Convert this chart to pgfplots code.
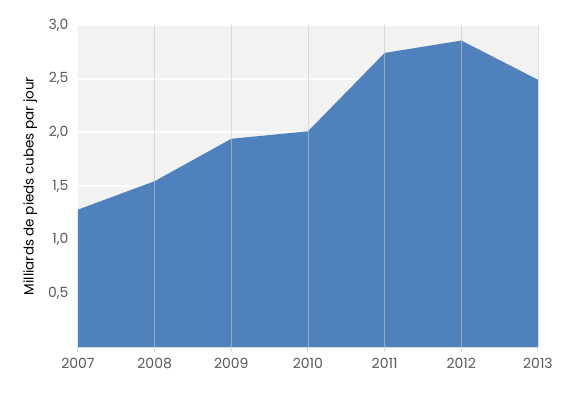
\documentclass[border=0pt]{standalone}
\usepackage{fontspec}
\setmainfont{Poppins}
\usepackage{pgfplots}
\pgfplotsset{compat=1.18}
\definecolor{areablue}{RGB}{79,129,189}
\definecolor{bggray}{RGB}{242,242,242}
\definecolor{txtgray}{RGB}{89,89,89}
\definecolor{axgray}{RGB}{217,217,217}
\definecolor{vgrid}{RGB}{200,200,200}
\begin{document}
\begin{tikzpicture}
\path[use as bounding box] (-78pt,-45pt) rectangle (502pt,347pt);
\begin{axis}[
  at={(0,0)}, anchor=south west,
  scale only axis, width=460pt, height=322pt,
  xmin=2007, xmax=2013, ymin=0, ymax=3,
  xtick={2007,...,2013},
  ytick={0.5,1,1.5,2,2.5,3},
  axis background/.style={fill=bggray},
  axis x line*=bottom, axis y line*=left,
  x axis line style={draw=axgray, line width=1pt, -},
  y axis line style={draw=none},
  xtick style={draw=axgray, line width=1pt},
  tick align=outside, major tick length=5pt,
  ymajorgrids, grid style={draw=white, line width=2pt},
  ytick style={draw=none},
  /pgf/number format/assume math mode=true,
  xticklabel style={/pgf/number format/1000 sep={}, text=txtgray, font=\fontsize{14}{17}\selectfont, yshift=-3pt},
  yticklabel style={/pgf/number format/.cd, fixed, fixed zerofill, precision=1, use comma, /tikz/.cd, text=txtgray, font=\fontsize{14}{17}\selectfont, xshift=-1pt},
  ylabel={Milliards de pieds cubes par jour},
  ylabel style={font=\fontsize{13.5}{16}\selectfont, text=black, at={(axis description cs:-0.104,0.5)}, anchor=center},
  clip=false,
]
\addplot[fill=areablue, draw=none] coordinates {
  (2007,1.28) (2008,1.545) (2009,1.94) (2010,2.01) (2011,2.74) (2012,2.855) (2013,2.49)
} \closedcycle;
\pgfplotsinvokeforeach{2008,2009,2010,2011,2012,2013}{
  \draw[draw=vgrid, opacity=0.6, line width=1pt] (axis cs:#1,0) -- (axis cs:#1,3);
}
\draw[draw=axgray, line width=1pt] (axis cs:2007,0) -- (axis cs:2013,0);
\end{axis}
\end{tikzpicture}
\end{document}
